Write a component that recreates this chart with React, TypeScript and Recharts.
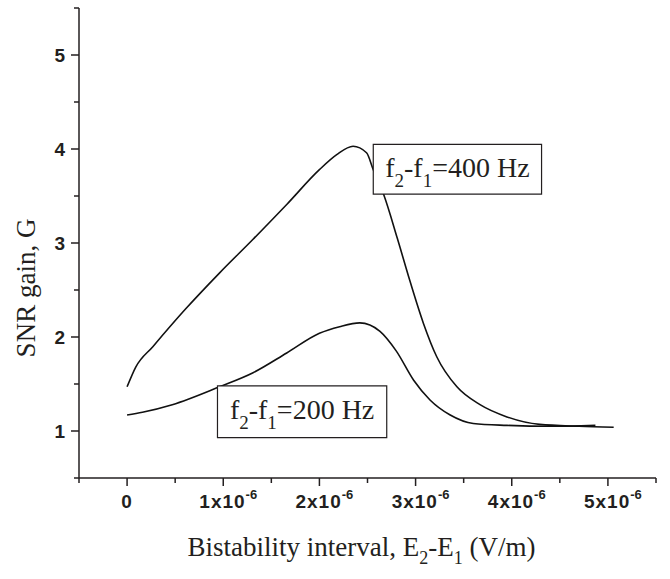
import { Label, Line, LineChart, ReferenceArea, XAxis, YAxis } from 'recharts';

// x values are in units of 1e-6 V/m
const X_TICKS = [-0.5, 0, 0.5, 1, 1.5, 2, 2.5, 3, 3.5, 4, 4.5, 5, 5.5];
const Y_TICKS = [0.5, 1, 1.5, 2, 2.5, 3, 3.5, 4, 4.5, 5, 5.5];

const S400_X = [0, 0.09, 0.27, 0.61, 0.96, 1.31, 1.66, 2.0, 2.18, 2.35, 2.49, 2.56, 2.67, 2.81, 2.94, 3.08, 3.22, 3.43, 3.67, 3.95, 4.29, 4.7, 5.06];
const S400_Y = [1.47, 1.68, 1.9, 2.3, 2.68, 3.04, 3.41, 3.78, 3.94, 4.03, 3.96, 3.78, 3.51, 3.05, 2.6, 2.15, 1.79, 1.47, 1.28, 1.15, 1.07, 1.05, 1.04];

const S200_X = [0, 0.16, 0.47, 0.96, 1.31, 1.66, 2.0, 2.21, 2.42, 2.63, 2.8, 2.98, 3.15, 3.36, 3.6, 3.95, 4.4, 4.87];
const S200_Y = [1.17, 1.2, 1.28, 1.47, 1.62, 1.83, 2.04, 2.11, 2.15, 2.06, 1.85, 1.54, 1.33, 1.17, 1.08, 1.06, 1.05, 1.06];

const INK = '#231f20';
const SERIF = '"Liberation Serif", "Times New Roman", serif';
const SANS = '"Liberation Sans", Arial, sans-serif';

const data400 = S400_X.map((x, i) => ({ x, y: S400_Y[i] }));
const data200 = S200_X.map((x, i) => ({ x, y: S200_Y[i] }));

function XTick({ x, y, payload }: any) {
  const v = payload.value;
  const major = Number.isInteger(v);
  return (
    <g>
      <line x1={x} y1={y} x2={x} y2={y + (major ? 8 : 5)} stroke={INK} strokeWidth={1.5} />
      {major && (
        <text
          x={v === 0 ? x : x + 5}
          y={y + 30}
          textAnchor="middle"
          fill={INK}
          fontFamily={SANS}
          fontWeight="bold"
          fontSize={19}
          letterSpacing={1}
        >
          {v === 0 ? '0' : `${v}x10`}
          {v !== 0 && (
            <tspan dy={-9} fontSize={13} letterSpacing={0}>
              -6
            </tspan>
          )}
        </text>
      )}
    </g>
  );
}

function YTick({ x, y, payload }: any) {
  const v = payload.value;
  const major = Number.isInteger(v);
  return (
    <g>
      <line x1={x - (major ? 8 : 5)} y1={y} x2={x} y2={y} stroke={INK} strokeWidth={1.5} />
      {major && (
        <text
          x={x - 14}
          y={y}
          dy={7}
          textAnchor="end"
          fill={INK}
          fontFamily={SANS}
          fontWeight="bold"
          fontSize={19}
        >
          {v}
        </text>
      )}
    </g>
  );
}

function XTitle({ viewBox }: any) {
  const { x, y, width } = viewBox;
  return (
    <text x={x + width / 2 - 6} y={y + 78} textAnchor="middle" fill={INK} fontFamily={SERIF} fontSize={27}>
      Bistability interval, E
      <tspan dy={8} fontSize={18}>2</tspan>
      <tspan dy={-8}>-E</tspan>
      <tspan dy={8} fontSize={18}>1</tspan>
      <tspan dy={-8}> (V/m)</tspan>
    </text>
  );
}

function YTitle({ viewBox }: any) {
  const { y, height } = viewBox;
  const cy = y + height / 2 + 45;
  return (
    <text
      x={35}
      y={cy}
      transform={`rotate(-90 35 ${cy})`}
      textAnchor="middle"
      fill={INK}
      fontFamily={SERIF}
      fontSize={27}
    >
      SNR gain, G
    </text>
  );
}

function annoLabel(freq: string) {
  return ({ viewBox }: any) => {
    const { x, y, width } = viewBox;
    return (
      <text x={x + width / 2} y={y + 33} textAnchor="middle" fill={INK} fontFamily={SERIF} fontSize={28}>
        f
        <tspan dy={10} fontSize={19}>2</tspan>
        <tspan dy={-10}>-f</tspan>
        <tspan dy={10} fontSize={19}>1</tspan>
        <tspan dy={-10}>{`=${freq} Hz`}</tspan>
      </text>
    );
  };
}

export default function App() {
  return (
    <div style={{ width: 670, height: 579, background: '#fff' }}>
      <style>{'body{margin:0}'}</style>
      <LineChart width={670} height={579} margin={{ top: 8, right: 14, left: 0, bottom: 0 }}>
        <XAxis
          type="number"
          dataKey="x"
          domain={[-0.5, 5.5]}
          ticks={X_TICKS}
          interval={0}
          height={101}
          tickSize={0}
          tickMargin={0}
          tickLine={false}
          tick={<XTick />}
          axisLine={{ stroke: INK, strokeWidth: 1.5 }}
          allowDataOverflow
        >
          <Label content={<XTitle />} />
        </XAxis>
        <YAxis
          type="number"
          dataKey="y"
          domain={[0.5, 5.5]}
          ticks={Y_TICKS}
          interval={0}
          width={79}
          tickSize={0}
          tickMargin={0}
          tickLine={false}
          tick={<YTick />}
          axisLine={{ stroke: INK, strokeWidth: 1.5 }}
          allowDataOverflow
        >
          <Label content={<YTitle />} />
        </YAxis>
        <Line
          data={data400}
          dataKey="y"
          type="monotone"
          stroke="#111"
          strokeWidth={1.6}
          dot={false}
          isAnimationActive={false}
        />
        <Line
          data={data200}
          dataKey="y"
          type="monotone"
          stroke="#111"
          strokeWidth={1.6}
          dot={false}
          isAnimationActive={false}
        />
        <ReferenceArea
          x1={2.56}
          x2={4.31}
          y1={3.52}
          y2={4.05}
          fill="#fff"
          fillOpacity={1}
          stroke={INK}
          strokeWidth={1.2}
          zIndex={1500}
          label={annoLabel('400')}
        />
        <ReferenceArea
          x1={0.94}
          x2={2.7}
          y1={0.93}
          y2={1.48}
          fill="#fff"
          fillOpacity={1}
          stroke={INK}
          strokeWidth={1.2}
          zIndex={1500}
          label={annoLabel('200')}
        />
      </LineChart>
    </div>
  );
}
